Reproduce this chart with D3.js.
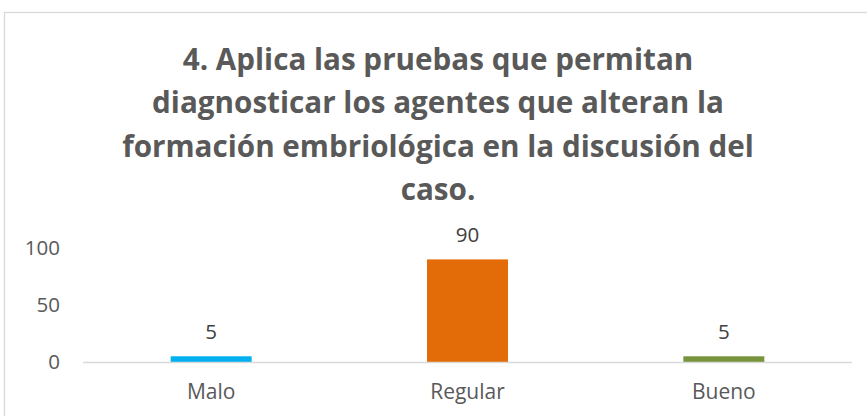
<!DOCTYPE html>
<html>
<head>
<meta charset="utf-8">
<script src="https://cdn.jsdelivr.net/npm/d3@7"></script>
<style>
  html, body { margin: 0; padding: 0; background: #fff; }
  svg { display: block; font-family: "Open Sans", sans-serif; }
</style>
</head>
<body>
<div id="chart"></div>
<script>
  // ── data ──────────────────────────────
  const categories = ["Malo", "Regular", "Bueno"];
  const values = [5, 90, 5];
  const barColors = ["#00b0f0", "#e36c09", "#77933c"];
  const yTicks = [0, 50, 100];
  const titleLines = [
    "4. Aplica las pruebas que permitan",
    "diagnosticar los agentes que alteran la",
    "formación embriológica en la discusión del",
    "caso."
  ];

  const W = 867, H = 416;
  const plot = { left: 83, right: 852, top: 248, bottom: 362 };

  const svg = d3.select("#chart").append("svg")
    .attr("width", W).attr("height", H);

  // chart frame (only top + left visible in the crop)
  svg.append("rect")
    .attr("x", 4.5).attr("y", 12.5)
    .attr("width", 880).attr("height", 450)
    .attr("fill", "#fff")
    .attr("stroke", "#d9d9d9").attr("stroke-width", 1.3);

  // ── title ─────────────────────────────
  const titleG = svg.append("g")
    .attr("transform", "translate(438,0)");
  const tText = titleG.selectAll("text")
    .data(titleLines)
    .join("text")
    .attr("x", 0)
    .attr("y", (d, i) => 70 + i * 43.5)
    .attr("text-anchor", "middle")
    .attr("font-size", 29.5)
    .attr("font-weight", 700)
    .attr("fill", "#595959")
    .text(d => d);
  // Calibri is narrower than Open Sans: squeeze horizontally
  const widest = d3.max(tText.nodes(), n => n.getComputedTextLength());
  const sx = 632 / widest;
  titleG.attr("transform", `translate(438,0) scale(${sx},1)`);

  // ── scales ────────────────────────────
  const x = d3.scaleBand()
    .domain(categories)
    .range([plot.left, plot.right])
    .paddingInner(0).paddingOuter(0);
  const barW = x.bandwidth() * 0.316;

  const y = d3.scaleLinear()
    .domain([0, 100])
    .range([plot.bottom, plot.top]);

  // y axis labels (no line, no ticks)
  const yAxis = d3.axisLeft(y).tickValues(yTicks).tickSize(0).tickPadding(0);
  const yG = svg.append("g")
    .attr("transform", "translate(60,0)")
    .call(yAxis);
  yG.select(".domain").remove();
  yG.selectAll("text")
    .attr("font-family", "Open Sans")
    .attr("font-size", 20.5)
    .attr("fill", "#595959");

  // bars
  svg.append("g").selectAll("rect")
    .data(values)
    .join("rect")
    .attr("x", (d, i) => x(categories[i]) + (x.bandwidth() - barW) / 2)
    .attr("y", d => y(d))
    .attr("width", barW)
    .attr("height", d => y(0) - y(d))
    .attr("fill", (d, i) => barColors[i]);

  // baseline
  svg.append("line")
    .attr("x1", plot.left).attr("x2", plot.right)
    .attr("y1", y(0) + 0.5).attr("y2", y(0) + 0.5)
    .attr("stroke", "#d9d9d9").attr("stroke-width", 1.3);

  // x axis labels
  const xAxis = d3.axisBottom(x).tickSize(0).tickPadding(0);
  const xG = svg.append("g")
    .attr("transform", `translate(0,${plot.bottom + 37})`)
    .call(xAxis);
  xG.select(".domain").remove();
  xG.selectAll("text")
    .attr("dy", 0)
    .attr("font-family", "Open Sans")
    .attr("font-size", 21)
    .attr("fill", "#595959");

  // data labels
  svg.append("g").selectAll("text")
    .data(values)
    .join("text")
    .attr("x", (d, i) => x(categories[i]) + x.bandwidth() / 2)
    .attr("y", d => y(d) - 17)
    .attr("text-anchor", "middle")
    .attr("font-size", 20.5)
    .attr("fill", "#404040")
    .text(d => d);
</script>
</body>
</html>
